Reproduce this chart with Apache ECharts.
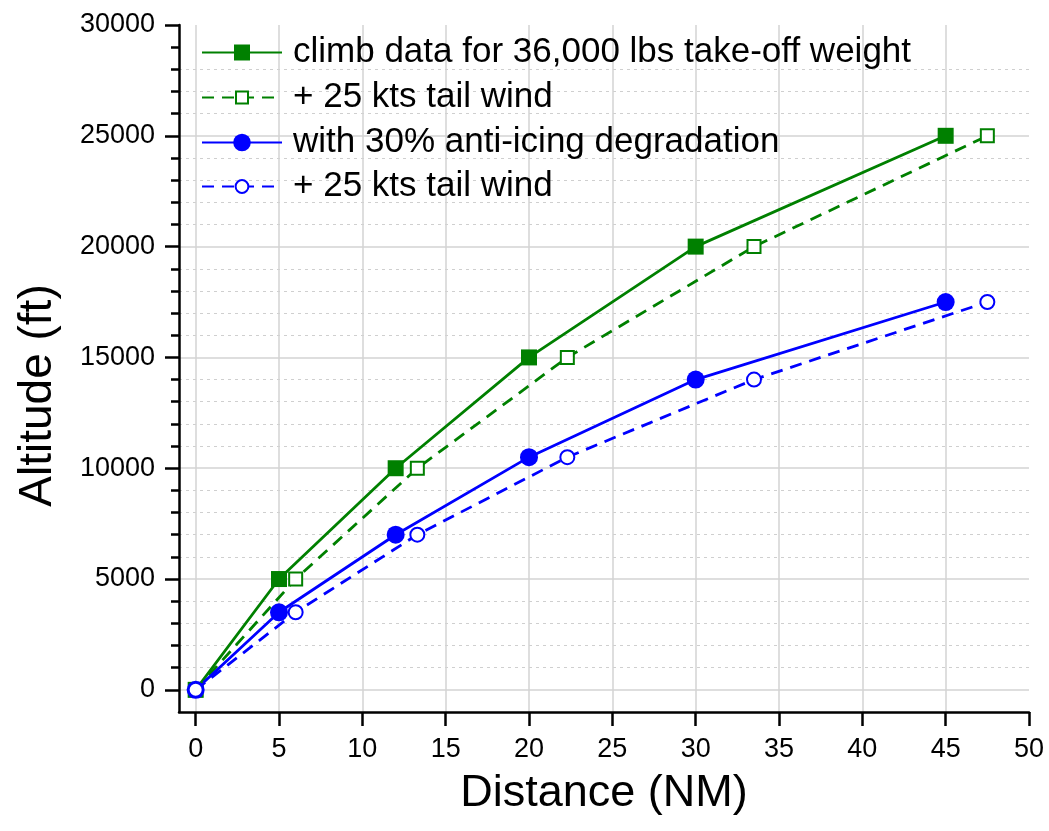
<!DOCTYPE html>
<html>
<head>
<meta charset="utf-8">
<script src="https://cdn.jsdelivr.net/npm/echarts@6/dist/echarts.min.js"></script>
<style>
html,body{margin:0;padding:0;background:#fff;}
#chart{width:1049px;height:831px;}
</style>
</head>
<body>
<div id="chart"></div>
<script>
// ---- data ----
const seriesNames = [
  'climb data for 36,000 lbs take-off weight',
  '+ 25 kts tail wind',
  'with 30% anti-icing degradation',
  '+ 25 kts tail wind '
];
const climbDist      = [0, 5, 12, 20, 30, 45];
const climbAlt       = [0, 5000, 10000, 15000, 20000, 25000];
const climbWindDist  = [0, 6, 13.3, 22.3, 33.5, 47.5];
const climbWindAlt   = [0, 5000, 10000, 15000, 20000, 25000];
const iceDist        = [0, 5, 12, 20, 30, 45];
const iceAlt         = [0, 3500, 7000, 10500, 14000, 17500];
const iceWindDist    = [0, 6, 13.3, 22.3, 33.5, 47.5];
const iceWindAlt     = [0, 3500, 7000, 10500, 14000, 17500];
const xTicks = [0, 5, 10, 15, 20, 25, 30, 35, 40, 45, 50];
const yTicks = [0, 5000, 10000, 15000, 20000, 25000, 30000];
const yMinorTicks = [1000, 2000, 3000, 4000, 6000, 7000, 8000, 9000, 11000, 12000, 13000, 14000,
  16000, 17000, 18000, 19000, 21000, 22000, 23000, 24000, 26000, 27000, 28000, 29000];

const pairs = (xs, ys) => xs.map((x, i) => [x, ys[i]]);

const GREEN = '#008000';
const BLUE = '#0000ff';
const FONT = 'Liberation Sans, Arial, sans-serif';

const chart = echarts.init(document.getElementById('chart'));

function legendAt(name, center, itemHeight) {
  return {
    data: [name],
    left: 201,
    top: center - 17,
    orient: 'vertical',
    padding: 0,
    itemWidth: 80,
    itemHeight: itemHeight,
    selectedMode: false,
    textStyle: {fontSize: 35, color: '#000', fontFamily: FONT, padding: [0, 0, 0, 6], lineHeight: 34}
  };
}

chart.setOption({
  animation: false,
  backgroundColor: '#fff',
  grid: {left: 179, right: 20, top: 25, bottom: 119, containLabel: false},
  legend: [
    legendAt(seriesNames[0], 52, 20),
    legendAt(seriesNames[1], 97, 15),
    legendAt(seriesNames[2], 142, 22),
    legendAt(seriesNames[3], 186, 16)
  ],
  xAxis: [{
    type: 'value', min: -1, max: 50,
    name: 'Distance (NM)', nameLocation: 'middle', nameGap: 59,
    nameTextStyle: {fontSize: 45, color: '#000', fontFamily: FONT},
    axisLine: {show: true, onZero: false, lineStyle: {color: '#000', width: 2.5}},
    axisTick: {show: true, customValues: xTicks, length: 14, lineStyle: {color: '#000', width: 2.5}},
    axisLabel: {customValues: xTicks, fontSize: 27, color: '#000', fontFamily: FONT, margin: 24,
      formatter: v => String(v)},
    splitLine: {show: true, showMaxLine: false, lineStyle: {color: '#d3d3d3', width: 1.5}},
    minorTick: {show: false}
  }],
  yAxis: [{
    type: 'value', min: -1000, max: 30000, position: 'left',
    name: 'Altitude (ft)', nameLocation: 'middle', nameGap: 118, nameRotate: 90,
    nameTextStyle: {fontSize: 46, color: '#000', fontFamily: FONT, padding: [0, 54, 0, 0]},
    axisLine: {show: true, onZero: false, lineStyle: {color: '#000', width: 2.5}},
    axisTick: {show: true, customValues: yTicks, length: 14, lineStyle: {color: '#000', width: 2.5}},
    axisLabel: {customValues: yTicks, fontSize: 27, color: '#000', fontFamily: FONT, margin: 24,
      formatter: v => String(v)},
    splitLine: {show: true, showMaxLine: false, lineStyle: {color: '#d3d3d3', width: 1.5}}
  }, {
    type: 'value', min: -1000, max: 30000, position: 'left', offset: 0,
    axisLine: {show: false, onZero: false},
    axisTick: {show: true, customValues: yMinorTicks, length: 8, lineStyle: {color: '#000', width: 2.5}},
    axisLabel: {show: false},
    splitLine: {show: true, showMaxLine: false, showMinLine: true, lineStyle: {color: '#cfcfcf', width: 1.2, type: [3, 4]}}
  }],
  series: [{
    name: seriesNames[0], type: 'line', data: pairs(climbDist, climbAlt),
    symbol: 'rect', symbolSize: 16, color: GREEN,
    lineStyle: {color: GREEN, width: 2.8}, itemStyle: {color: GREEN}, z: 4
  }, {
    name: seriesNames[1], type: 'line', data: pairs(climbWindDist, climbWindAlt),
    symbol: 'emptyRect', symbolSize: 13, color: GREEN,
    lineStyle: {color: GREEN, width: 2.8, type: [12, 8]}, itemStyle: {color: GREEN, borderWidth: 2.2}, z: 3
  }, {
    name: seriesNames[2], type: 'line', data: pairs(iceDist, iceAlt),
    symbol: 'circle', symbolSize: 18, color: BLUE,
    lineStyle: {color: BLUE, width: 2.8}, itemStyle: {color: BLUE}, z: 4
  }, {
    name: seriesNames[3], type: 'line', data: pairs(iceWindDist, iceWindAlt),
    symbol: 'emptyCircle', symbolSize: 14, color: BLUE,
    lineStyle: {color: BLUE, width: 2.8, type: [12, 8]}, itemStyle: {color: BLUE, borderWidth: 2.2}, z: 5
  }]
});
</script>
</body>
</html>
